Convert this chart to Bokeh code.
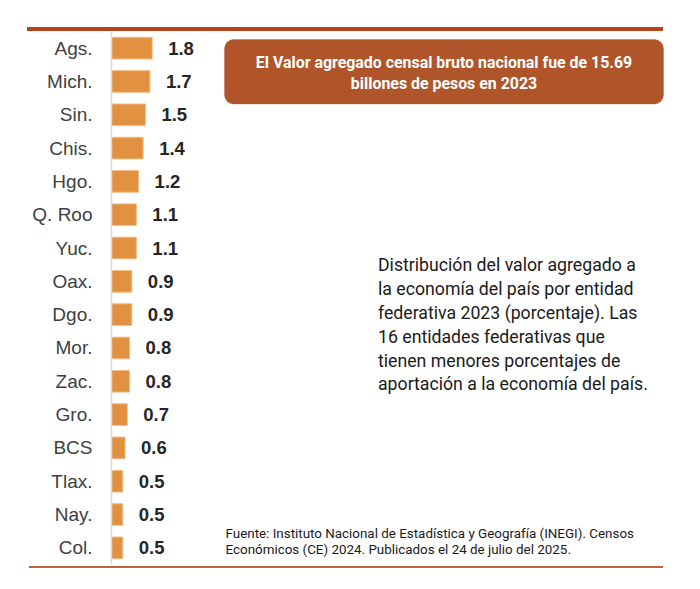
from bokeh.plotting import figure
from bokeh.models import Range1d, FixedTicker, BoxAnnotation, Label, ColumnDataSource
from bokeh.core.properties import value
from bokeh.embed import file_html
from bokeh.resources import INLINE

# ---- data ----
states = ["Ags.", "Mich.", "Sin.", "Chis.", "Hgo.", "Q. Roo", "Yuc.", "Oax.",
          "Dgo.", "Mor.", "Zac.", "Gro.", "BCS", "Tlax.", "Nay.", "Col."]
shares = [1.8, 1.7, 1.5, 1.4, 1.2, 1.1, 1.1, 0.9, 0.9, 0.8, 0.8, 0.7, 0.6, 0.5, 0.5, 0.5]

callout_lines = ["El Valor agregado censal bruto nacional fue de 15.69",
                 "billones de pesos en 2023"]
desc_lines = ["Distribución del valor agregado a",
              "la economía del país por entidad",
              "federativa 2023 (porcentaje). Las",
              "16 entidades federativas que",
              "tienen menores porcentajes de",
              "aportación a la economía del país."]
source_lines = ["Fuente: Instituto Nacional de Estadística y Geografía (INEGI). Censos",
                "Económicos (CE) 2024. Publicados el 24 de julio del 2025."]

# ---- layout (pixels) ----
W, H = 690, 585
FL, FT, FBOT = 111, 31, 564
PX_PER_UNIT = 22.6
n = len(states)
frame_w = W - FL
frame_h = FBOT - FT
row_h = frame_h / n

TXT = "Roboto"


def dx(px):
    return (px - FL) / PX_PER_UNIT


def dy(py):
    return (py - FT) / row_h - 0.5


p = figure(width=W, height=H, output_backend="svg", toolbar_location=None,
           x_range=Range1d(0, frame_w / PX_PER_UNIT), y_range=Range1d(n - 0.5, -0.5),
           min_border_left=FL, min_border_right=0, min_border_top=FT,
           min_border_bottom=H - FBOT, x_axis_location=None)
p.xgrid.visible = False
p.ygrid.visible = False
p.outline_line_color = None
p.background_fill_color = None
p.border_fill_color = None

# horizontal rules above and below the chart (page decoration)
p.styles = {
    "background-image": "linear-gradient(#b5461c, #b5461c), linear-gradient(#c0623c, #c0623c)",
    "background-size": "636px 4px, 634px 2px",
    "background-position": "27px 26.5px, 29px 565.5px",
    "background-repeat": "no-repeat",
}

ya = p.yaxis[0]
ya.ticker = FixedTicker(ticks=list(range(n)))
ya.major_label_overrides = {i: s for i, s in enumerate(states)}
ya.axis_line_color = "#d9d9d9"
ya.axis_line_width = 1.5
ya.major_tick_line_color = None
ya.minor_tick_line_color = None
ya.major_tick_out = 0
ya.major_tick_in = 0
ya.major_label_standoff = 19
ya.major_label_text_font = "Liberation Sans"
ya.major_label_text_font_size = "19px"
ya.major_label_text_color = "#404040"

src = ColumnDataSource(dict(i=list(range(n)), v=shares, t=[f"{v:.1f}" for v in shares]))
p.hbar(y="i", left=0, right="v", height=0.65, source=src,
       fill_color="#e1913f", line_color="#f0bd86", line_width=1)
p.text(x="v", y="i", text="t", source=src, x_offset=16, text_baseline="middle",
       text_font=value("Liberation Sans"), text_font_style="bold",
       text_font_size="18.5px", text_color="#262626")

# callout
p.add_layout(BoxAnnotation(left=dx(224), right=dx(663), top=dy(39), bottom=dy(103.5),
                           fill_color="#b0552a", fill_alpha=1, line_color="#a84b22",
                           line_width=1, border_radius=9))
for t, mid in zip(callout_lines, [62.0, 83.0]):
    p.add_layout(Label(x=dx(443.5), y=dy(mid), text=t, text_align="center",
                       text_baseline="middle", text_font=TXT,
                       text_font_style="bold", text_font_size="15.9px", text_color="white"))

for k, t in enumerate(desc_lines):
    p.add_layout(Label(x=dx(377.5), y=dy(264.8 + 23.8 * k), text=t, text_align="left",
                       text_baseline="middle", text_font=TXT,
                       text_font_size="17.7px", text_color="#1a1a1a"))

for k, t in enumerate(source_lines):
    p.add_layout(Label(x=dx(225), y=dy(533.0 + 16 * k), text=t, text_align="left",
                       text_baseline="middle", text_font=TXT,
                       text_font_size="13.4px", text_color="#1a1a1a"))

open("out.html", "w").write(file_html(p, INLINE))
